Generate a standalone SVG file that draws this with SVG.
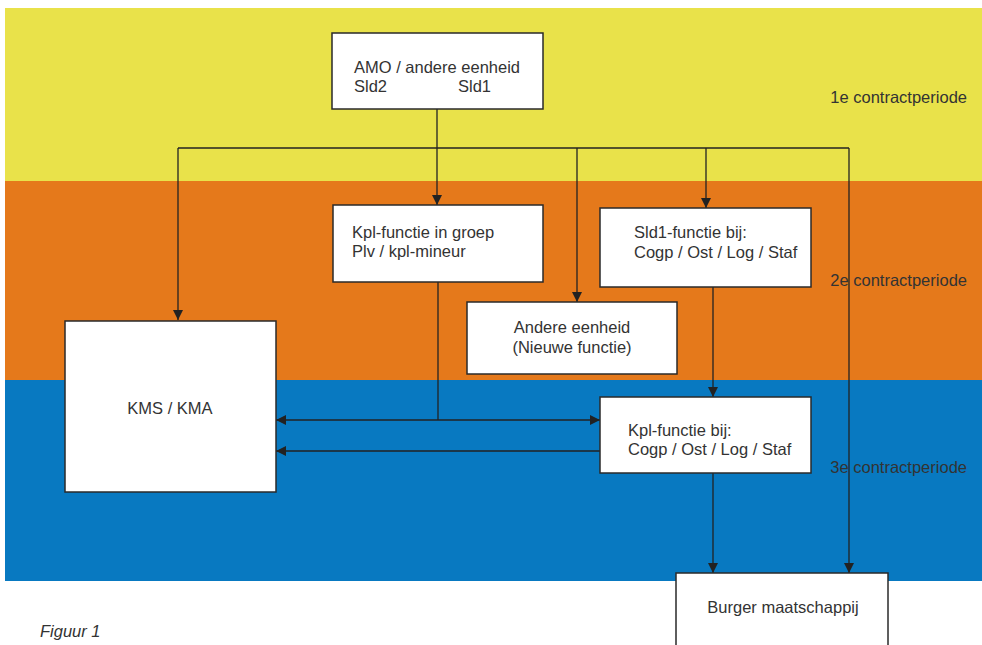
<svg xmlns="http://www.w3.org/2000/svg" width="982" height="645" viewBox="0 0 982 645">
<style>
.box{fill:#fff;stroke:#2a2a2a;stroke-width:1.5}
.t{font-family:"Liberation Sans",Arial,sans-serif;font-size:16.5px;fill:#333}
.c{stroke:#222;stroke-width:1.3;fill:none}
</style>
<defs>
<marker id="ah" viewBox="0 0 10 10" refX="10" refY="5" markerWidth="10" markerHeight="10" markerUnits="userSpaceOnUse" orient="auto">
<path d="M0,0 L10,5 L0,10 Z" fill="#222"/>
</marker>
</defs>
<rect width="982" height="645" fill="#fff"/>
<g id="bands">
<rect x="5" y="8" width="977" height="173" fill="#E9E24A"/>
<rect x="5" y="181" width="977" height="199" fill="#E5791B"/>
<rect x="5" y="380" width="977" height="201" fill="#0879C1"/>
</g>
<g id="labels">
<text class="t" x="967" y="103" text-anchor="end">1e contractperiode</text>
<text class="t" x="967" y="286" text-anchor="end">2e contractperiode</text>
<text class="t" x="967" y="473" text-anchor="end">3e contractperiode</text>
<text class="t" x="40" y="637" font-style="italic" font-size="15">Figuur 1</text>
</g>
<g id="connectors">
<path class="c" d="M437,109 V205" marker-end="url(#ah)"/>
<path class="c" d="M178,148 H849"/>
<path class="c" d="M178,148 V320" marker-end="url(#ah)"/>
<path class="c" d="M577,148 V302" marker-end="url(#ah)"/>
<path class="c" d="M706,148 V208" marker-end="url(#ah)"/>
<path class="c" d="M849,148 V573" marker-end="url(#ah)"/>
<path class="c" d="M438,282 V420"/>
<path class="c" d="M438,420 H600" marker-end="url(#ah)"/>
<path class="c" d="M438,420 H276" marker-end="url(#ah)"/>
<path class="c" d="M600,451 H276" marker-end="url(#ah)"/>
<path class="c" d="M713,287 V397" marker-end="url(#ah)"/>
<path class="c" d="M713,473 V573" marker-end="url(#ah)"/>
</g>
<g id="amo">
<rect class="box" x="332" y="33" width="211" height="76"/>
<text class="t" x="354" y="73">AMO / andere eenheid</text>
<text class="t" x="354" y="92">Sld2</text>
<text class="t" x="458" y="92">Sld1</text>
</g>
<g id="kpl-groep">
<rect class="box" x="333" y="205" width="210" height="77"/>
<text class="t" x="352" y="238">Kpl-functie in groep</text>
<text class="t" x="352" y="257">Plv / kpl-mineur</text>
</g>
<g id="sld1-functie">
<rect class="box" x="600" y="208" width="211" height="79"/>
<text class="t" x="634" y="238">Sld1-functie bij:</text>
<text class="t" x="634" y="258">Cogp / Ost / Log / Staf</text>
</g>
<g id="andere-eenheid">
<rect class="box" x="467" y="302" width="210" height="72"/>
<text class="t" x="572" y="333" text-anchor="middle">Andere eenheid</text>
<text class="t" x="572" y="353" text-anchor="middle">(Nieuwe functie)</text>
</g>
<g id="kms">
<rect class="box" x="65" y="321" width="211" height="171"/>
<text class="t" x="170" y="414" text-anchor="middle">KMS / KMA</text>
</g>
<g id="kpl-bij">
<rect class="box" x="600" y="397" width="211" height="76"/>
<text class="t" x="628" y="436">Kpl-functie bij:</text>
<text class="t" x="628" y="455">Cogp / Ost / Log / Staf</text>
</g>
<g id="burger">
<rect class="box" x="676" y="573" width="212" height="80"/>
<text class="t" x="783" y="613" text-anchor="middle">Burger maatschappij</text>
</g>
</svg>
